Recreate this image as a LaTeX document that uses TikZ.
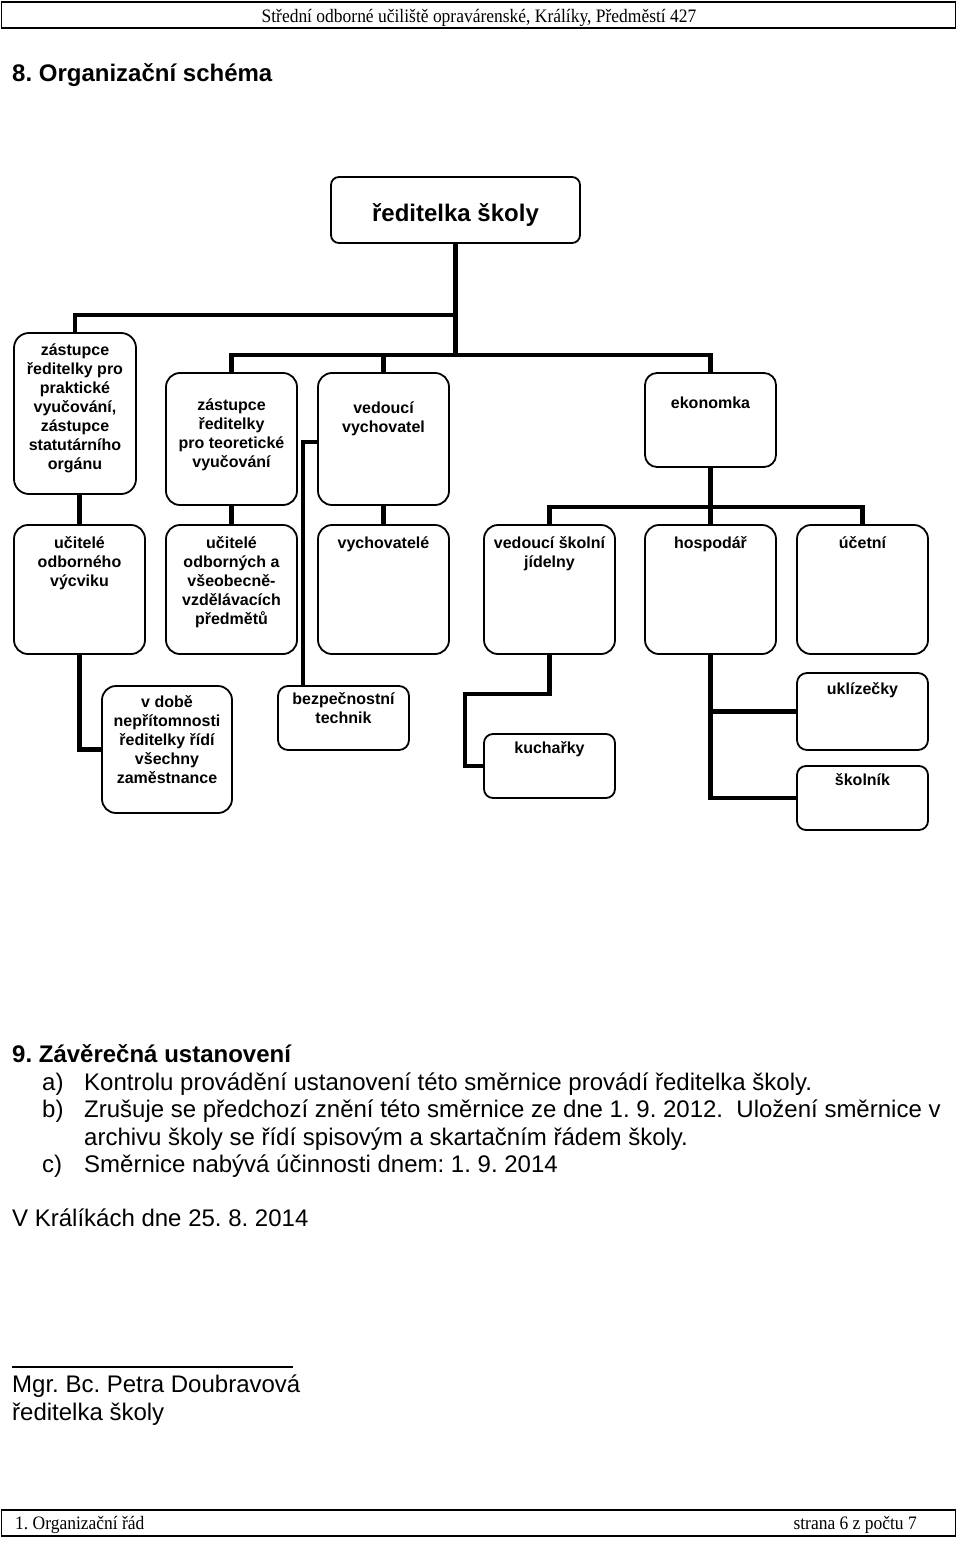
\documentclass[tikz,border=0pt]{standalone}
\usepackage{fontspec}
\setmainfont{Liberation Sans}
\newfontfamily\hlavfont[FakeStretch=0.92]{Liberation Serif}
\usetikzlibrary{positioning}
\frenchspacing

\tikzset{
  orgbox/.style={draw, line width=1.8pt, rounded corners=14pt, inner sep=0pt,
    minimum width=131pt, minimum height=129pt},
  boxtxt/.style={font=\bfseries\fontsize{16}{19}\selectfont, align=center, inner sep=0pt, anchor=north},
  spoj/.style={line width=4.5pt},
  txt/.style={font=\fontsize{24}{27}\selectfont, inner sep=0pt, anchor=base west},
  ramec/.style={draw, line width=1.5pt, minimum width=954pt, minimum height=26pt, inner sep=0pt},
  hlav/.style={font=\hlavfont\fontsize{19}{22}\selectfont, inner sep=0pt},
}

\begin{document}
\begin{tikzpicture}[x=1pt,y=-1pt]
  \useasboundingbox (0,0) rectangle (960,1541);
  \node[ramec] (hlava) at (478.5,15) {};
  \node[hlav, anchor=base] (hlava-t) at (479,23) {Střední odborné učiliště opravárenské, Králíky, Předměstí 427};
  \node[txt, font=\bfseries\fontsize{24}{27}\selectfont] (nadpis) at (12,81.5) {8. Organizační schéma};

  % vedeni
  \node[orgbox, rounded corners=8pt, minimum width=249pt, minimum height=66pt] (reditelka) at (455.5,210) {};
  \node[font=\bfseries\fontsize{24}{27}\selectfont, inner sep=0pt, anchor=base] (reditelka-t) at (455.5,221) {ředitelka školy};
  \node[orgbox, rounded corners=15pt, minimum width=122pt, minimum height=161pt] (zastPV) at (75,413.5) {};
  \node[boxtxt, below=11pt of zastPV.north] (zastPV-t) {zástupce\\ředitelky pro\\praktické\\vyučování,\\zástupce\\statutárního\\orgánu};
  \node[orgbox, minimum height=132pt] (zastTV) at (231.5,439) {};
  \node[boxtxt, below=26pt of zastTV.north] (zastTV-t) {zástupce\\ředitelky\\pro teoretické\\vyučování};
  \node[orgbox, minimum height=132pt] (vedVych) at (383.5,439) {};
  \node[boxtxt, below=29pt of vedVych.north] (vedVych-t) {vedoucí\\vychovatel};
  \node[orgbox, rounded corners=12pt, minimum height=94pt] (ekonomka) at (710.5,420) {};
  \node[boxtxt, below=25pt of ekonomka.north] (ekonomka-t) {ekonomka};

  % druha rada
  \node[orgbox] (ucOV) at (79.5,589.5) {};
  \node[boxtxt, below=12pt of ucOV.north] (ucOV-t) {učitelé\\odborného\\výcviku};
  \node[orgbox] (ucOP) at (231.5,589.5) {};
  \node[boxtxt, below=12pt of ucOP.north] (ucOP-t) {učitelé\\odborných a\\všeobecně-\\vzdělávacích\\předmětů};
  \node[orgbox] (vychovatele) at (383.5,589.5) {};
  \node[boxtxt, below=12pt of vychovatele.north] (vychovatele-t) {vychovatelé};
  \node[orgbox] (vedJid) at (549.5,589.5) {};
  \node[boxtxt, below=12pt of vedJid.north] (vedJid-t) {vedoucí školní\\jídelny};
  \node[orgbox] (hospodar) at (710.5,589.5) {};
  \node[boxtxt, below=12pt of hospodar.north] (hospodar-t) {hospodář};
  \node[orgbox] (ucetni) at (862.5,589.5) {};
  \node[boxtxt, below=12pt of ucetni.north] (ucetni-t) {účetní};

  % treti rada
  \node[orgbox, minimum width=130pt, minimum height=127pt] (vDobe) at (167,749.5) {};
  \node[boxtxt, below=10pt of vDobe.north] (vDobe-t) {v době\\nepřítomnosti\\ředitelky řídí\\všechny\\zaměstnance};
  \node[orgbox, rounded corners=10pt, minimum height=64pt] (bezpTech) at (343.5,718) {};
  \node[boxtxt, below=7pt of bezpTech.north] (bezpTech-t) {bezpečnostní\\technik};
  \node[orgbox, rounded corners=9pt, minimum height=64pt] (kucharky) at (549.5,766) {};
  \node[boxtxt, below=8pt of kucharky.north] (kucharky-t) {kuchařky};
  \node[orgbox, rounded corners=10pt, minimum height=77pt] (uklizecky) at (862.5,711.5) {};
  \node[boxtxt, below=10pt of uklizecky.north] (uklizecky-t) {uklízečky};
  \node[orgbox, rounded corners=9pt, minimum height=64pt] (skolnik) at (862.5,798) {};
  \node[boxtxt, below=8pt of skolnik.north] (skolnik-t) {školník};

  % spoje
  \coordinate (uzelA) at (455.5,315);
  \coordinate (uzelB) at (455.5,355);
  \coordinate (uzelC) at (710.5,507);
  \draw[spoj] (reditelka.south) -- (uzelB);
  \draw[spoj] (zastPV.north) |- (uzelA);
  \draw[spoj] (zastTV.north) |- (uzelB) -| (ekonomka.north);
  \draw[spoj] (vedVych.north) -- (vedVych.north |- uzelB);
  \draw[spoj] (ucOV.north) -- (ucOV.north |- zastPV.south);
  \draw[spoj] (ucOV.south) |- (vDobe.west);
  \draw[spoj] (zastTV.south) -- (ucOP.north);
  \draw[spoj] (vedVych.south) -- (vychovatele.north);
  \draw[spoj] ([yshift=-3pt]vedVych.west) -| ([xshift=-40.5pt]bezpTech.north);
  \draw[spoj] (ekonomka.south) -- (hospodar.north);
  \draw[spoj] (vedJid.north) |- (uzelC) -| (ucetni.north);
  \draw[spoj] (vedJid.south) -- ++(0,39) -| ([xshift=-18pt]kucharky.west) -- (kucharky.west);
  \draw[spoj] (hospodar.south) |- (uklizecky.west);
  \draw[spoj] (hospodar.south) |- (skolnik.west);

  % zaver
  \node[txt, font=\bfseries\fontsize{24}{27}\selectfont] (zaver) at (12,1062) {9. Závěrečná ustanovení};
  \node[txt] (bodA) at (42,1090) {a)};
  \node[txt] (bodA-t) at (84,1090) {Kontrolu provádění ustanovení této směrnice provádí ředitelka školy.};
  \node[txt] (bodB) at (42,1117) {b)};
  \node[txt] (bodB-t) at (84,1117) {Zrušuje se předchozí znění této směrnice ze dne 1. 9. 2012. \ Uložení směrnice v};
  \node[txt] (bodB-t2) at (84,1145) {archivu školy se řídí spisovým a skartačním řádem školy.};
  \node[txt] (bodC) at (42,1172) {c)};
  \node[txt] (bodC-t) at (84,1172) {Směrnice nabývá účinnosti dnem: 1. 9. 2014};
  \node[txt] (misto) at (12,1226) {V Králíkách dne 25. 8. 2014};
  \coordinate (podpisL) at (12,1367);
  \coordinate (podpisP) at (293,1367);
  \draw[line width=1.3pt] (podpisL) -- (podpisP);
  \node[txt] (jmeno) at (12,1392) {Mgr. Bc. Petra Doubravová};
  \node[txt] (funkce) at (12,1420) {ředitelka školy};

  \node[ramec] (pata) at (478.5,1523) {};
  \node[hlav, anchor=base west] (pata-l) at (15,1529) {1. Organizační řád};
  \node[hlav, anchor=base east] (pata-r) at (917,1529) {strana 6 z počtu 7};
\end{tikzpicture}
\end{document}
